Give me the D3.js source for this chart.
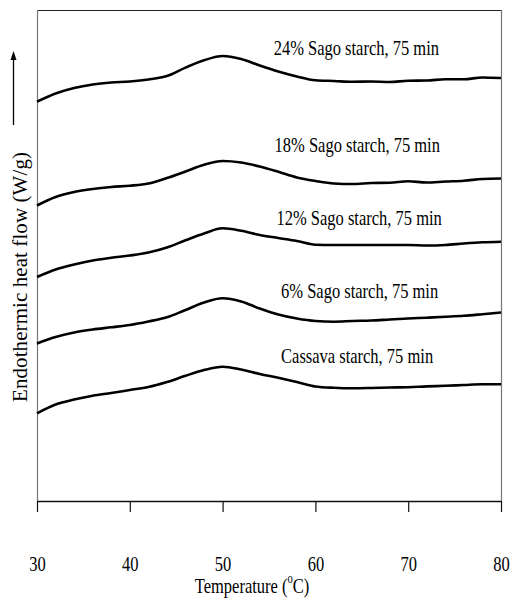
<!DOCTYPE html>
<html>
<head>
<meta charset="utf-8">
<title>DSC curves</title>
<style>
  body { margin: 0; background: #fff; }
  text { font-family: "Liberation Serif", "Times New Roman", serif; fill: #000; }
  .curve { fill: none; stroke: #000; stroke-width: 2.6; stroke-linejoin: round; }
</style>
</head>
<body>
<svg width="512" height="601"></svg>
<script src="https://d3js.org/d3.v7.min.js"></script>
<script>
// temperature grid (°C)
var temps = [30,32,34,36,38,40,42,44,46,48,50,52,54,56,58,60,62,64,66,68,70,72,74,76,78,80];

// series names, top to bottom
var names = ["24% Sago starch, 75 min", "18% Sago starch, 75 min", "12% Sago starch, 75 min",
             "6% Sago starch, 75 min", "Cassava starch, 75 min"];

// heat flow (arbitrary units, curves offset vertically)
var sago24 = [39.93,40.75,41.30,41.65,41.85,41.95,42.15,42.50,43.34,44.07,44.50,44.20,43.55,
              42.95,42.45,42.07,42.00,41.92,41.95,41.90,42.03,42.05,42.17,42.17,42.35,42.30];
var sago18 = [29.55,30.40,30.90,31.20,31.40,31.53,31.75,32.30,32.95,33.62,34.00,33.85,33.45,
              32.92,32.35,32.00,31.75,31.70,31.80,31.83,31.98,31.85,31.95,32.03,32.20,32.25];
var sago12 = [22.40,23.15,23.65,24.05,24.32,24.55,24.85,25.35,26.07,26.75,27.27,27.02,26.60,
              26.30,26.00,25.63,25.60,25.60,25.60,25.60,25.60,25.55,25.60,25.75,25.87,25.93];
var sago6  = [15.75,16.40,16.85,17.15,17.37,17.60,17.95,18.37,19.10,19.85,20.27,19.95,19.25,
              18.65,18.25,18.00,17.93,18.00,18.05,18.15,18.25,18.33,18.42,18.52,18.68,18.85];
var cassava = [8.77,9.65,10.15,10.52,10.80,11.10,11.40,11.90,12.52,13.10,13.43,13.15,12.70,
               12.32,11.90,11.45,11.32,11.27,11.30,11.35,11.38,11.46,11.52,11.60,11.67,11.67];

var xTicks = [30,40,50,60,70,80];

var series = [sago24, sago18, sago12, sago6, cassava];

var svg = d3.select("svg");
var pLeft = 37, pRight = 501, pTop = 10, pBottom = 501;
var sx = 0.75; // horizontal squeeze of text

var x = d3.scaleLinear().domain([30, 80]).range([pLeft, pRight]);
var y = d3.scaleLinear().domain([0, 49.1]).range([pBottom, pTop]);

// frame
svg.append("line").attr("x1", pLeft).attr("x2", pRight).attr("y1", pTop + 0.5).attr("y2", pTop + 0.5)
  .attr("stroke", "#222").attr("stroke-width", 1);
svg.append("line").attr("x1", pLeft + 0.5).attr("x2", pLeft + 0.5).attr("y1", pTop).attr("y2", pBottom)
  .attr("stroke", "#777").attr("stroke-width", 1.2);
svg.append("line").attr("x1", pRight + 0.5).attr("x2", pRight + 0.5).attr("y1", pTop).attr("y2", pBottom)
  .attr("stroke", "#777").attr("stroke-width", 1.2);

// x axis
var xAxis = d3.axisBottom(x).tickValues(xTicks).tickSize(11).tickPadding(43).tickSizeOuter(0);
var gx = svg.append("g").attr("transform", "translate(0," + pBottom + ")").call(xAxis);
gx.select(".domain").attr("stroke", "#111").attr("stroke-width", 1.3);
gx.selectAll(".tick line").attr("stroke", "#111").attr("stroke-width", 1.2);
gx.selectAll(".tick text")
  .attr("font-family", "Liberation Serif, Times New Roman, serif")
  .attr("font-size", 22)
  .attr("fill", "#000")
  .attr("transform", "scale(" + sx + ",1)");

// curves
var line = d3.line()
  .x(function(d, i) { return x(temps[i]); })
  .y(function(d) { return y(d); })
  .curve(d3.curveMonotoneX);

svg.selectAll(".curve").data(series).enter().append("path")
  .attr("class", "curve")
  .attr("d", line);

// curve labels (layout: start temperature, baseline in px)
var labelPos = [[55.5, 55], [55.6, 152], [55.8, 225], [56.3, 298], [56.3, 363]];
names.forEach(function(n, i) {
  svg.append("g")
    .attr("transform", "translate(" + x(labelPos[i][0]) + "," + labelPos[i][1] + ") scale(" + sx + ",1)")
    .append("text")
    .attr("font-size", 22)
    .attr("text-anchor", "start")
    .text(n);
});

// x axis title
var xt = svg.append("g")
  .attr("transform", "translate(252,593) scale(" + sx + ",1)")
  .append("text").attr("font-size", 22).attr("text-anchor", "middle");
xt.append("tspan").text("Temperature (");
xt.append("tspan").attr("font-size", 14).attr("dy", -10).text("o");
xt.append("tspan").attr("dy", 10).text("C)");

// y axis title
svg.append("text")
  .attr("transform", "translate(27,277) rotate(-90)")
  .attr("font-size", 21)
  .attr("text-anchor", "middle")
  .attr("textLength", 250)
  .attr("lengthAdjust", "spacing")
  .text("Endothermic heat flow (W/g)");

// arrow
svg.append("line").attr("x1", 13.5).attr("x2", 13.5).attr("y1", 125).attr("y2", 58)
  .attr("stroke", "#000").attr("stroke-width", 1.3);
svg.append("path").attr("d", "M13.5,51 L10.5,60 L16.5,60 Z").attr("fill", "#000");
</script>
</body>
</html>
